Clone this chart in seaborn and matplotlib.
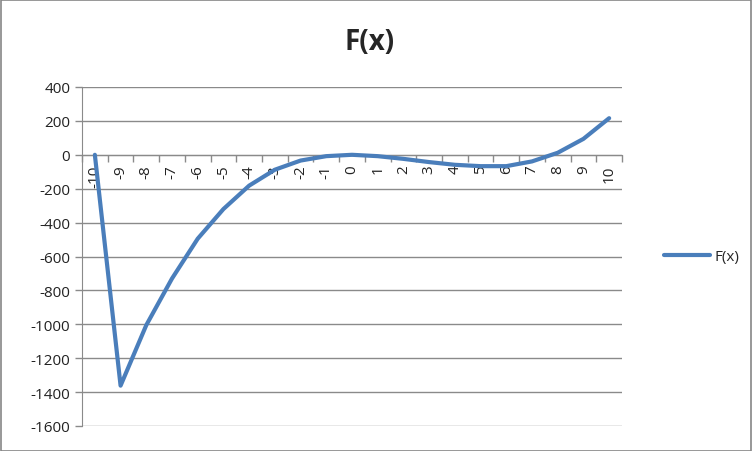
import numpy as np
import seaborn as sns
import matplotlib.pyplot as plt
import pandas as pd

# values
xs = list(range(-10, 11))
fx = [0, -1362, -1005, -730, -495, -320, -182, -88, -34, -8, 0,
      -8, -24, -43, -59, -67, -67, -39, 12, 94, 216]
y_ticks = list(range(-1600, 401, 200))

df = pd.DataFrame({"x": xs, "F(x)": fx})

sns.set_style("white")
plt.rcParams['font.family'] = ['Open Sans', 'DejaVu Sans']

fig = plt.figure(figsize=(7.52, 4.52), dpi=100)
ax = fig.add_axes([82 / 752, 1 - 427 / 452, 540 / 752, 339 / 452])

sns.lineplot(data=df, x="x", y="F(x)", ax=ax, color="#4A7EBB", linewidth=3,
             label="F(x)", solid_capstyle="round", zorder=3)

ax.set_xlim(-10.5, 10.5)
ax.set_ylim(-1600, 400)
ax.set_yticks(y_ticks)
ax.set_yticklabels([str(v) for v in y_ticks], fontsize=11, color="#222222")
ax.yaxis.grid(True, color="#8a8a8a", linewidth=1)
ax.set_axisbelow(True)

# x axis crosses at zero, category ticks between points
ax.spines["bottom"].set_position(("data", 0))
ax.spines["bottom"].set_color("#8a8a8a")
ax.spines["left"].set_color("#8a8a8a")
ax.spines["top"].set_visible(False)
ax.spines["right"].set_visible(False)
ax.set_xticks(xs)
ax.set_xticklabels([str(v) for v in xs], rotation=90, fontsize=11, color="#222222")
ax.set_xticks(np.arange(-10.5, 11, 1), minor=True)
ax.tick_params(axis="x", which="major", length=0, pad=7, bottom=True)
ax.tick_params(axis="x", which="minor", length=5, width=1, color="#8a8a8a",
               direction="out", bottom=True)
ax.tick_params(axis="y", length=5, width=1, color="#8a8a8a", direction="out", left=True)
ax.set_xlabel("")
ax.set_ylabel("")

fig.text(0.492, 0.905, "F(x)", ha="center", va="center", fontsize=20, fontweight="bold")

ax.legend(loc="center left", bbox_to_anchor=(0.865, 0.43), bbox_transform=fig.transFigure,
          frameon=False, fontsize=11, handlelength=3, handletextpad=0.3)

fig.patches.append(plt.Rectangle((0.001, 0.001), 0.998, 0.997, transform=fig.transFigure,
                                 fill=False, edgecolor="#868686", linewidth=1.2))

fig.savefig("out.png", dpi=100)
